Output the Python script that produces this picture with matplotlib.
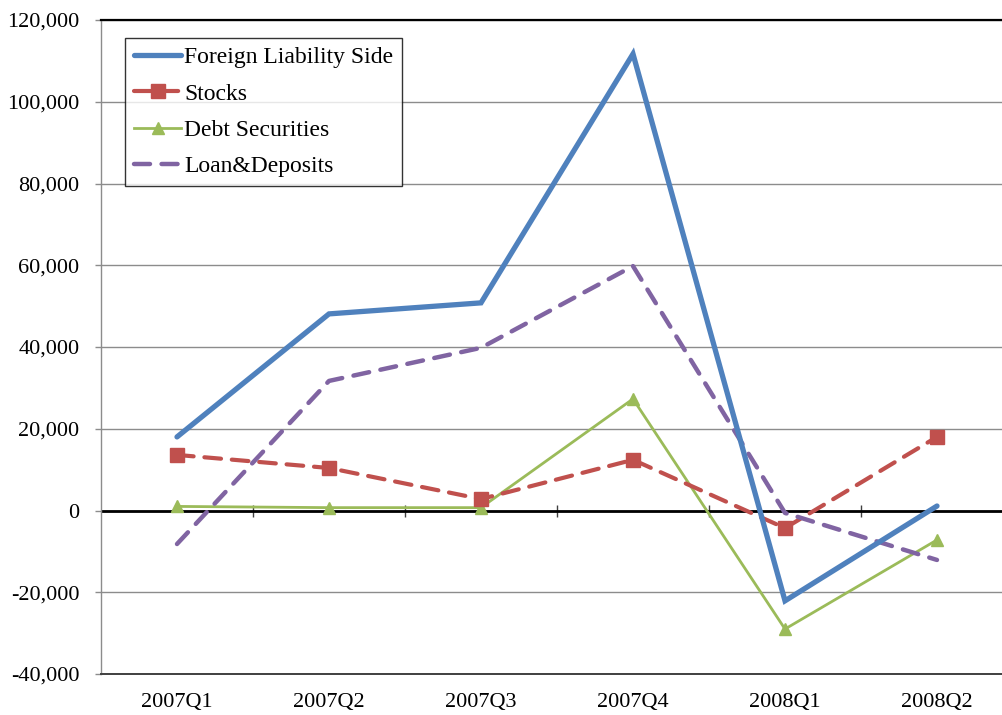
#!/usr/bin/env python3
"""
Foreign liability side flows by component, 2007Q1-2008Q2 (Excel-style line chart).
"""

import matplotlib
matplotlib.use("Agg")
import matplotlib.pyplot as plt
from matplotlib.ticker import FuncFormatter, MultipleLocator

# Data
quarters = ["2007Q1", "2007Q2", "2007Q3", "2007Q4", "2008Q1", "2008Q2"]
foreign_liability = [18000, 48100, 50800, 111700, -22100, 1100]
stocks = [13600, 10400, 2800, 12400, -4300, 18000]
debt_securities = [1000, 700, 700, 27300, -29000, -7200]
loan_deposits = [-8200, 31700, 39800, 59800, -600, -12100]

# Excel 2007 palette
BLUE = "#4F81BD"
RED = "#C0504D"
GREEN = "#9BBB59"
PURPLE = "#8064A2"
GRID = "#8C8C8C"

plt.rcParams["font.family"] = ["Liberation Serif", "DejaVu Serif"]
FS_TICK = 16
FS_LEG = 17

fig = plt.figure(figsize=(10.03, 7.15), dpi=100)
ax = fig.add_axes([101 / 1003, 41 / 715, 912 / 1003, 654 / 715])

x = list(range(len(quarters)))

ax.plot(x, foreign_liability, color=BLUE, lw=3.8, solid_capstyle="round",
        solid_joinstyle="miter", label="Foreign Liability Side", zorder=5)
ax.plot(x, stocks, color=RED, lw=3.0, dashes=(4.0, 2.6), dash_capstyle="round",
        marker="s", markersize=10, markeredgecolor=RED, markerfacecolor=RED,
        label="Stocks", zorder=4)
ax.plot(x, debt_securities, color=GREEN, lw=2.0, marker="^", markersize=9,
        markeredgecolor=GREEN, markerfacecolor=GREEN,
        label="Debt Securities", zorder=3)
ax.plot(x, loan_deposits, color=PURPLE, lw=3.2, dashes=(3.6, 2.6),
        dash_capstyle="round", label="Loan&Deposits", zorder=4)

ax.set_xlim(-0.5, len(quarters) - 0.5)
ax.set_ylim(-40000, 120000)

# gridlines / spines
ax.yaxis.set_major_locator(MultipleLocator(20000))
ax.grid(axis="y", color=GRID, lw=1.0)
ax.set_axisbelow(True)
ax.spines["top"].set_color("black")
ax.spines["top"].set_linewidth(1.6)
ax.spines["bottom"].set_color("#404040")
ax.spines["bottom"].set_linewidth(1.4)
ax.spines["left"].set_color(GRID)
ax.spines["left"].set_linewidth(1.0)
ax.spines["right"].set_visible(False)

ax.yaxis.set_major_formatter(FuncFormatter(lambda v, p: f"{v:,.0f}"))
ax.tick_params(axis="y", direction="out", length=4.5, width=1.0, color=GRID,
               pad=11, labelsize=FS_TICK)
ax.set_xticks(x)
ax.set_xticklabels(quarters)
ax.tick_params(axis="x", length=0, pad=14, labelsize=FS_TICK)

# zero line with category-boundary tick marks
ax.axhline(0, color="black", lw=2.0, zorder=2)
zero_pos = (0 - ax.get_ylim()[0]) / (ax.get_ylim()[1] - ax.get_ylim()[0])
sec = ax.secondary_xaxis(zero_pos)
sec.set_xticks([i + 0.5 for i in x[:-1]])
sec.tick_params(direction="inout", length=9, width=1.0, color="#404040",
                labelbottom=False, labeltop=False)
sec.spines["bottom"].set_visible(False)

leg = ax.legend(loc="upper left", bbox_to_anchor=(24 / 912, 1 - 18 / 654),
                borderaxespad=0, fontsize=FS_LEG, frameon=True, fancybox=False,
                handlelength=2.0, handletextpad=0.12, labelspacing=0.62,
                borderpad=0.38)
leg.get_frame().set_edgecolor("black")
leg.get_frame().set_linewidth(1.0)
leg.set_zorder(10)

fig.savefig("out.png", dpi=100)
